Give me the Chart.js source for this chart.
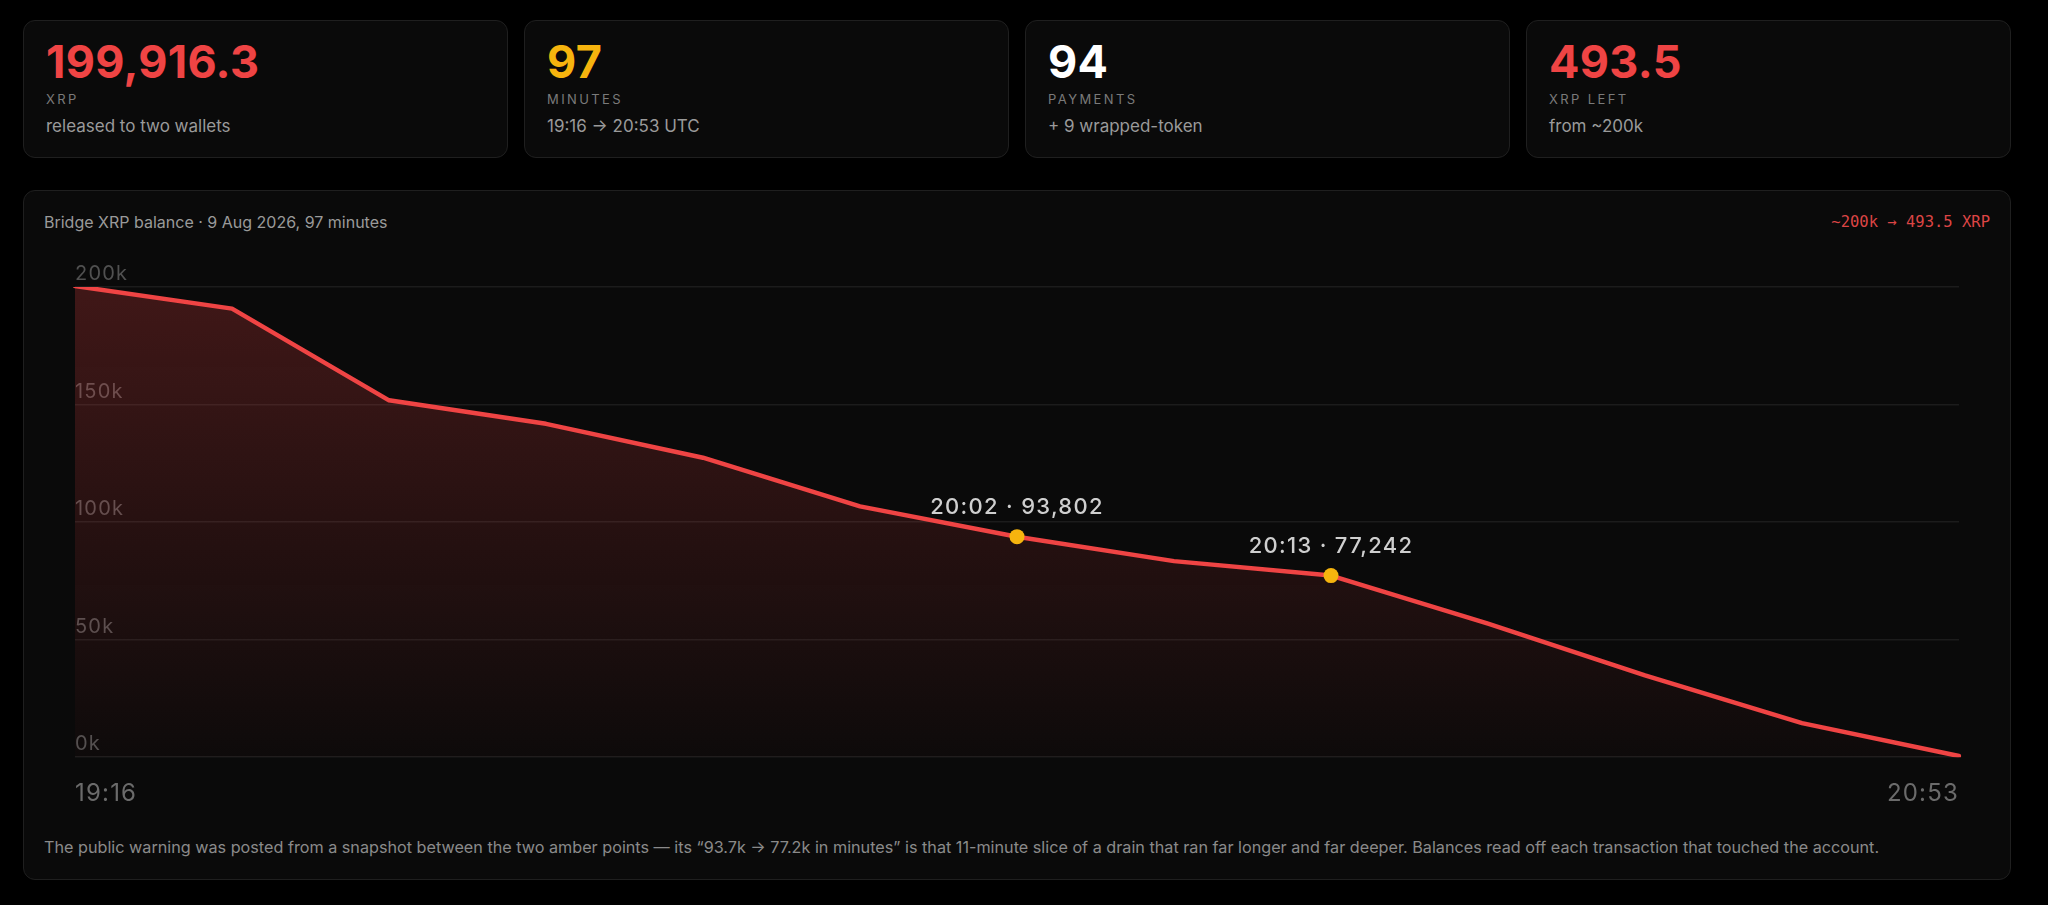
<!DOCTYPE html>
<html>
<head>
<meta charset="utf-8">
<script src="https://cdn.jsdelivr.net/npm/chart.js@4.4.1/dist/chart.umd.min.js"></script>
<style>
  body { margin: 0; background: #000; font-family: Inter, "Noto Sans", sans-serif; }
  .stats { position: absolute; left: 23px; top: 20px; width: 1988px; height: 138px;
           display: grid; grid-template-columns: repeat(4, 1fr); gap: 16px; }
  .card { background: #0a0a0a; border: 1px solid #1f1f1f; border-radius: 12px;
          padding: 18px 22px; box-sizing: border-box; }
  .big { font: 700 45px/1 Inter, sans-serif; letter-spacing: 0.3px; }
  .lbl { font: 400 13px/1 Inter, sans-serif; letter-spacing: 2.4px; color: #7a7a7a; margin-top: 9px; }
  .sub { font: 400 17px/1 Inter, sans-serif; color: #9a9a9a; margin-top: 12px; }
  .red { color: #ef4444; } .amber { color: #f6b40e; } .white { color: #fff; }
  .panel { position: absolute; left: 23px; top: 190px; width: 1988px; height: 690px;
           box-sizing: border-box; background: #0a0a0a; border: 1px solid #1f1f1f; border-radius: 12px; }
  .title { position: absolute; left: 20px; top: 23px; font: 400 16px/1 Inter, sans-serif; color: #9a9a9a; }
  .range { position: absolute; right: 20px; top: 24px; font: 400 15.5px/1 "DejaVu Sans Mono", monospace; color: #dc4545; }
  .wrap { position: absolute; left: 21px; top: 59px; width: 1945px; height: 572px; }
  .note { position: absolute; left: 20px; top: 648px; font: 400 16.2px/1 Inter, sans-serif; color: #8a8a8a; white-space: nowrap; }
</style>
</head>
<body>
<div class="stats">
  <div class="card"><div class="big red">199,916.3</div><div class="lbl">XRP</div><div class="sub">released to two wallets</div></div>
  <div class="card"><div class="big amber">97</div><div class="lbl">MINUTES</div><div class="sub">19:16 → 20:53 UTC</div></div>
  <div class="card"><div class="big white">94</div><div class="lbl">PAYMENTS</div><div class="sub">+ 9 wrapped-token</div></div>
  <div class="card"><div class="big red">493.5</div><div class="lbl">XRP LEFT</div><div class="sub">from ~200k</div></div>
</div>
<div class="panel">
  <div class="title">Bridge XRP balance · 9 Aug 2026, 97 minutes</div>
  <div class="range">~200k → 493.5 XRP</div>
  <div class="wrap"><canvas id="c"></canvas></div>
  <div class="note">The public warning was posted from a snapshot between the two amber points — its “93.7k → 77.2k in minutes” is that 11-minute slice of a drain that ran far longer and far deeper. Balances read off each transaction that touched the account.</div>
</div>
<script>
// times only known for the ends and the two marked points
const stamps = ['19:16', '', '', '', '', '', '20:02', '', '20:13', '', '', '', '20:53'];
const balance = [200410, 190800, 151800, 141800, 127400, 106700, 93802, 83400, 77242, 56800, 34800, 14500, 493.5];
const marked = [6, 8];
const yTickLabels = ['0k', '50k', '100k', '150k', '200k'];

const RED = '#ef4444';
const AMBER = '#f6b40e';

// a bit of tracking on the axis text, like the original
const spacing = {
  id: 'spacing',
  beforeDraw(chart) { chart.ctx.letterSpacing = '1.2px'; }
};

const pointLabels = {
  id: 'pointLabels',
  afterDatasetsDraw(chart) {
    const ctx = chart.ctx;
    const pts = chart.getDatasetMeta(0).data;
    ctx.save();
    ctx.font = '500 22px Inter, sans-serif';
    ctx.letterSpacing = '1.3px';
    ctx.fillStyle = '#cfcfcf';
    ctx.textAlign = 'center';
    ctx.textBaseline = 'alphabetic';
    marked.forEach(i => {
      const txt = stamps[i] + ' · ' + balance[i].toLocaleString('en-US');
      ctx.fillText(txt, pts[i].x, pts[i].y - 22.5);
    });
    ctx.restore();
  }
};

new Chart(document.getElementById('c'), {
  type: 'line',
  data: {
    labels: stamps,
    datasets: [{
      data: balance,
      borderColor: RED,
      borderWidth: 4.5,
      borderJoinStyle: 'round',
      borderCapStyle: 'round',
      tension: 0,
      fill: 'origin',
      backgroundColor(c) {
        const a = c.chart.chartArea;
        if (!a) return 'rgba(239,68,68,0.2)';
        const g = c.chart.ctx.createLinearGradient(0, a.top, 0, a.bottom);
        g.addColorStop(0, 'rgba(239,68,68,0.24)');
        g.addColorStop(1, 'rgba(239,68,68,0.02)');
        return g;
      },
      pointRadius: balance.map((v, i) => marked.includes(i) ? 7.5 : 0),
      pointBackgroundColor: AMBER,
      pointBorderWidth: 0,
      pointHoverRadius: 0
    }]
  },
  options: {
    responsive: true,
    maintainAspectRatio: false,
    animation: false,
    layout: { padding: { top: 37, left: 30, right: 31, bottom: 0 } },
    plugins: { legend: { display: false }, tooltip: { enabled: false } },
    scales: {
      x: {
        grid: { display: false },
        border: { display: false },
        ticks: {
          autoSkip: false,
          maxRotation: 0,
          align: 'inner',
          padding: 14,
          color: '#6b6b6b',
          font: { family: 'Inter', size: 24 },
          callback: (v, i, t) => (i === 0 || i === t.length - 1) ? stamps[i] : ''
        }
      },
      y: {
        min: 0,
        max: 200000,
        border: { display: false },
        grid: { color: 'rgba(255,255,255,0.075)', lineWidth: 1.5, drawTicks: false },
        ticks: {
          stepSize: 50000,
          mirror: true,
          padding: 0,
          labelOffset: -13,
          color: '#505050',
          font: { family: 'Inter', size: 20 },
          callback: (v) => yTickLabels[v / 50000]
        }
      }
    }
  },
  plugins: [spacing, pointLabels]
});
</script>
</body>
</html>
